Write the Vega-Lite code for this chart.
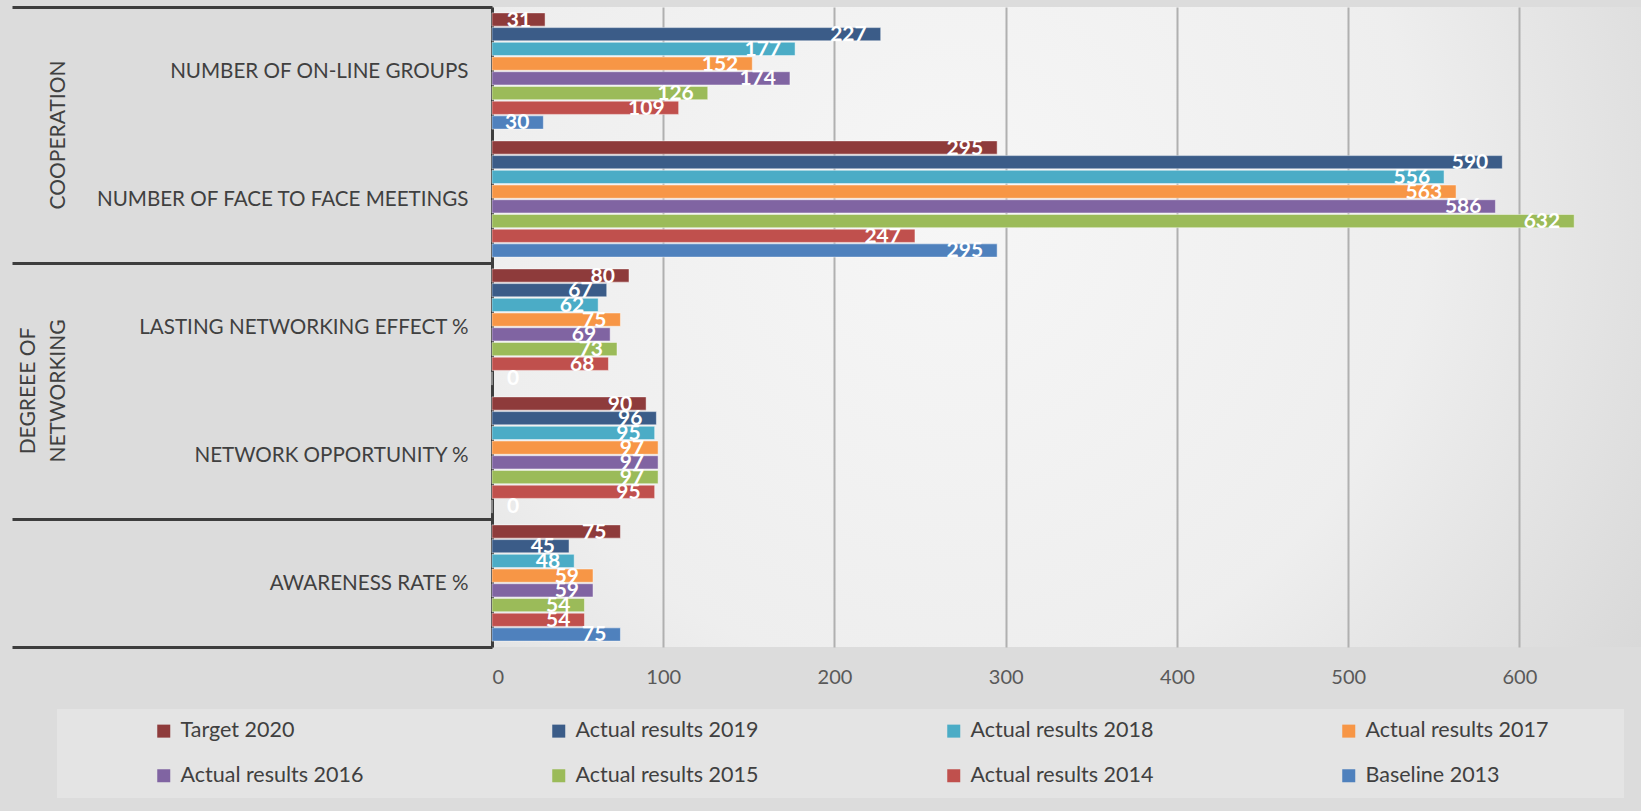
{
  "$schema": "https://vega.github.io/schema/vega-lite/v6.json",
  "width": 1149,
  "height": 640,
  "autosize": {"type": "none"},
  "padding": {"left": 492, "top": 7, "right": 0, "bottom": 164},
  "background": "#dcdcdc",
  "config": {
    "font": "Lato",
    "view": {
      "stroke": null,
      "fill": {
        "gradient": "radial",
        "x1": 0.4, "y1": 0.4, "r1": 0,
        "x2": 0.4, "y2": 0.4, "r2": 0.75,
        "stops": [
          {"offset": 0, "color": "#f6f6f6"},
          {"offset": 0.55, "color": "#eeeeee"},
          {"offset": 1, "color": "#d6d6d6"}
        ]
      }
    },
    "legend": {
      "orient": "none",
      "legendX": -435,
      "legendY": 702,
      "direction": "horizontal",
      "columns": 4,
      "gridAlign": "all",
      "columnPadding": 120,
      "rowPadding": 22,
      "padding": 11,
      "fillColor": "#e4e4e4",
      "symbolType": "square",
      "symbolSize": 169,
      "symbolStrokeWidth": 0,
      "labelFont": "Lato",
      "labelFontSize": 21.5,
      "labelColor": "#404040",
      "labelOffset": 6,
      "labelLimit": 500,
      "titleOrient": "left",
      "titlePadding": 85,
      "titleFontSize": 20
    }
  },
  "data": {
    "values": [
      {"measure": "NUMBER OF ON-LINE GROUPS", "series": "Target 2020", "value": 31},
      {"measure": "NUMBER OF ON-LINE GROUPS", "series": "Actual results 2019", "value": 227},
      {"measure": "NUMBER OF ON-LINE GROUPS", "series": "Actual results 2018", "value": 177},
      {"measure": "NUMBER OF ON-LINE GROUPS", "series": "Actual results 2017", "value": 152},
      {"measure": "NUMBER OF ON-LINE GROUPS", "series": "Actual results 2016", "value": 174},
      {"measure": "NUMBER OF ON-LINE GROUPS", "series": "Actual results 2015", "value": 126},
      {"measure": "NUMBER OF ON-LINE GROUPS", "series": "Actual results 2014", "value": 109},
      {"measure": "NUMBER OF ON-LINE GROUPS", "series": "Baseline 2013", "value": 30},
      {"measure": "NUMBER OF FACE TO FACE MEETINGS", "series": "Target 2020", "value": 295},
      {"measure": "NUMBER OF FACE TO FACE MEETINGS", "series": "Actual results 2019", "value": 590},
      {"measure": "NUMBER OF FACE TO FACE MEETINGS", "series": "Actual results 2018", "value": 556},
      {"measure": "NUMBER OF FACE TO FACE MEETINGS", "series": "Actual results 2017", "value": 563},
      {"measure": "NUMBER OF FACE TO FACE MEETINGS", "series": "Actual results 2016", "value": 586},
      {"measure": "NUMBER OF FACE TO FACE MEETINGS", "series": "Actual results 2015", "value": 632},
      {"measure": "NUMBER OF FACE TO FACE MEETINGS", "series": "Actual results 2014", "value": 247},
      {"measure": "NUMBER OF FACE TO FACE MEETINGS", "series": "Baseline 2013", "value": 295},
      {"measure": "LASTING NETWORKING EFFECT %", "series": "Target 2020", "value": 80},
      {"measure": "LASTING NETWORKING EFFECT %", "series": "Actual results 2019", "value": 67},
      {"measure": "LASTING NETWORKING EFFECT %", "series": "Actual results 2018", "value": 62},
      {"measure": "LASTING NETWORKING EFFECT %", "series": "Actual results 2017", "value": 75},
      {"measure": "LASTING NETWORKING EFFECT %", "series": "Actual results 2016", "value": 69},
      {"measure": "LASTING NETWORKING EFFECT %", "series": "Actual results 2015", "value": 73},
      {"measure": "LASTING NETWORKING EFFECT %", "series": "Actual results 2014", "value": 68},
      {"measure": "LASTING NETWORKING EFFECT %", "series": "Baseline 2013", "value": 0},
      {"measure": "NETWORK OPPORTUNITY %", "series": "Target 2020", "value": 90},
      {"measure": "NETWORK OPPORTUNITY %", "series": "Actual results 2019", "value": 96},
      {"measure": "NETWORK OPPORTUNITY %", "series": "Actual results 2018", "value": 95},
      {"measure": "NETWORK OPPORTUNITY %", "series": "Actual results 2017", "value": 97},
      {"measure": "NETWORK OPPORTUNITY %", "series": "Actual results 2016", "value": 97},
      {"measure": "NETWORK OPPORTUNITY %", "series": "Actual results 2015", "value": 97},
      {"measure": "NETWORK OPPORTUNITY %", "series": "Actual results 2014", "value": 95},
      {"measure": "NETWORK OPPORTUNITY %", "series": "Baseline 2013", "value": 0},
      {"measure": "AWARENESS RATE %", "series": "Target 2020", "value": 75},
      {"measure": "AWARENESS RATE %", "series": "Actual results 2019", "value": 45},
      {"measure": "AWARENESS RATE %", "series": "Actual results 2018", "value": 48},
      {"measure": "AWARENESS RATE %", "series": "Actual results 2017", "value": 59},
      {"measure": "AWARENESS RATE %", "series": "Actual results 2016", "value": 59},
      {"measure": "AWARENESS RATE %", "series": "Actual results 2015", "value": 54},
      {"measure": "AWARENESS RATE %", "series": "Actual results 2014", "value": 54},
      {"measure": "AWARENESS RATE %", "series": "Baseline 2013", "value": 75}
    ]
  },
  "layer": [
    {
      "mark": {"type": "bar", "stroke": "#ffffff", "strokeOpacity": 0.45, "strokeWidth": 1},
      "encoding": {
        "y": {
          "field": "measure", "type": "nominal",
          "scale": {
            "domain": ["NUMBER OF ON-LINE GROUPS", "NUMBER OF FACE TO FACE MEETINGS", "LASTING NETWORKING EFFECT %", "NETWORK OPPORTUNITY %", "AWARENESS RATE %"],
            "paddingInner": 0, "paddingOuter": 0
          },
          "axis": {
            "title": null,
            "domain": true, "domainColor": "#3d3d3d", "domainWidth": 3,
            "ticks": true, "tickBand": "extent", "tickSize": 480, "tickWidth": 3,
            "tickColor": {
              "condition": {"test": "datum.value === 'NUMBER OF ON-LINE GROUPS' || datum.value === 'LASTING NETWORKING EFFECT %'", "value": "rgba(0,0,0,0)"},
              "value": "#3d3d3d"
            },
            "labelPadding": -456,
            "labelFont": "Lato", "labelFontSize": 20.6, "labelColor": "#404040", "labelLimit": 470,
            "grid": false
          }
        },
        "yOffset": {
          "field": "series", "type": "nominal",
          "scale": {
            "domain": ["Target 2020", "Actual results 2019", "Actual results 2018", "Actual results 2017", "Actual results 2016", "Actual results 2015", "Actual results 2014", "Baseline 2013"],
            "paddingInner": 0.1, "paddingOuter": 0.4
          }
        },
        "x": {
          "field": "value", "type": "quantitative",
          "scale": {"domain": [0, 671], "nice": false, "zero": true},
          "axis": {
            "title": null, "values": [0, 100, 200, 300, 400, 500, 600],
            "domain": false, "ticks": false,
            "grid": true, "gridColor": "#b0b0b0", "gridWidth": 2,
            "labelPadding": 20, "labelFont": "Lato", "labelFontSize": 20, "labelColor": "#595959"
          }
        },
        "color": {
          "field": "series", "type": "nominal",
          "scale": {
            "domain": ["Target 2020", "Actual results 2019", "Actual results 2018", "Actual results 2017", "Actual results 2016", "Actual results 2015", "Actual results 2014", "Baseline 2013"],
            "range": ["#8e3b3b", "#3b5c88", "#4bacc6", "#f79646", "#8064a2", "#9bbb59", "#c0504d", "#4f81bd"]
          },
          "legend": {
            "title": " ",
            "labelExpr": "datum.label + '\u2800\u2800\u2800\u2800'"
          }
        }
      }
    },
    {
      "transform": [{"filter": "datum.value > 0"}],
      "mark": {"type": "text", "align": "right", "baseline": "middle", "dx": -14, "dy": 1, "font": "Lato", "fontWeight": "bold", "fontSize": 21, "fill": "#ffffff"},
      "encoding": {
        "y": {
          "field": "measure", "type": "nominal",
          "scale": {
            "domain": ["NUMBER OF ON-LINE GROUPS", "NUMBER OF FACE TO FACE MEETINGS", "LASTING NETWORKING EFFECT %", "NETWORK OPPORTUNITY %", "AWARENESS RATE %"],
            "paddingInner": 0, "paddingOuter": 0
          },
          "axis": null
        },
        "yOffset": {
          "field": "series", "type": "nominal",
          "scale": {
            "domain": ["Target 2020", "Actual results 2019", "Actual results 2018", "Actual results 2017", "Actual results 2016", "Actual results 2015", "Actual results 2014", "Baseline 2013"],
            "paddingInner": 0.1, "paddingOuter": 0.4
          }
        },
        "x": {"field": "value", "type": "quantitative", "scale": {"domain": [0, 671], "nice": false, "zero": true}},
        "text": {"field": "value", "type": "quantitative"}
      }
    },
    {
      "transform": [{"filter": "datum.value == 0"}],
      "mark": {"type": "text", "align": "left", "baseline": "middle", "dx": 15, "dy": 1, "font": "Lato", "fontWeight": "bold", "fontSize": 21, "fill": "#ffffff"},
      "encoding": {
        "y": {
          "field": "measure", "type": "nominal",
          "scale": {
            "domain": ["NUMBER OF ON-LINE GROUPS", "NUMBER OF FACE TO FACE MEETINGS", "LASTING NETWORKING EFFECT %", "NETWORK OPPORTUNITY %", "AWARENESS RATE %"],
            "paddingInner": 0, "paddingOuter": 0
          },
          "axis": {
            "title": null, "orient": "left",
            "values": ["NUMBER OF ON-LINE GROUPS", "LASTING NETWORKING EFFECT %"],
            "labelOffset": 64,
            "labelExpr": "datum.value === 'NUMBER OF ON-LINE GROUPS' ? 'COOPERATION' : ['DEGREEE OF', 'NETWORKING']",
            "labelAngle": -90, "labelAlign": "center", "labelBaseline": "bottom",
            "labelPadding": {
              "condition": {"test": "datum.value === 'LASTING NETWORKING EFFECT %'", "value": 454},
              "value": 424
            },
            "labelLineHeight": 30, "labelOverlap": false,
            "domain": false, "ticks": false, "grid": false,
            "labelFont": "Lato", "labelFontSize": 21, "labelColor": "#404040", "labelLimit": 400
          }
        },
        "yOffset": {
          "field": "series", "type": "nominal",
          "scale": {
            "domain": ["Target 2020", "Actual results 2019", "Actual results 2018", "Actual results 2017", "Actual results 2016", "Actual results 2015", "Actual results 2014", "Baseline 2013"],
            "paddingInner": 0.1, "paddingOuter": 0.4
          }
        },
        "x": {"field": "value", "type": "quantitative", "scale": {"domain": [0, 671], "nice": false, "zero": true}},
        "text": {"field": "value", "type": "quantitative"}
      }
    }
  ],
  "resolve": {"axis": {"y": "independent"}}
}
